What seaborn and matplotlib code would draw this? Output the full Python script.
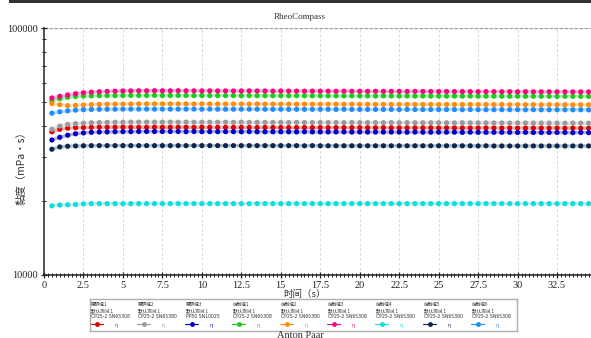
import numpy as np
import pandas as pd
import matplotlib
matplotlib.use("Agg")
import matplotlib.pyplot as plt
from matplotlib.lines import Line2D
from matplotlib.patches import Rectangle
from matplotlib.ticker import LogLocator, MultipleLocator, FixedLocator, NullFormatter
import seaborn as sns

# Measurement times (s)
time_s = [0.5 * k for k in range(1, 70)]

# Viscosity per sample, in thousands of mPa·s
visc_group1 = [
    38.00, 38.90, 39.30, 39.50, 39.55, 39.60, 39.65, 39.65, 39.65, 39.70, 39.65, 39.65,
    39.65, 39.70, 39.65, 39.65, 39.65, 39.65, 39.60, 39.65, 39.60, 39.60, 39.60, 39.60,
    39.60, 39.60, 39.55, 39.60, 39.55, 39.55, 39.55, 39.55, 39.55, 39.50, 39.55, 39.50,
    39.50, 39.50, 39.50, 39.50, 39.50, 39.45, 39.50, 39.45, 39.45, 39.45, 39.45, 39.45,
    39.45, 39.40, 39.45, 39.40, 39.40, 39.40, 39.40, 39.40, 39.40, 39.35, 39.40, 39.35,
    39.35, 39.35, 39.35, 39.35, 39.35, 39.30, 39.35, 39.30, 39.30]
visc_group2 = [
    38.90, 40.10, 40.70, 41.00, 41.20, 41.35, 41.45, 41.50, 41.55, 41.55, 41.60, 41.60,
    41.60, 41.60, 41.60, 41.60, 41.55, 41.60, 41.55, 41.55, 41.55, 41.55, 41.55, 41.50,
    41.55, 41.50, 41.50, 41.50, 41.50, 41.50, 41.45, 41.50, 41.45, 41.45, 41.45, 41.45,
    41.45, 41.40, 41.45, 41.40, 41.40, 41.40, 41.40, 41.40, 41.35, 41.40, 41.35, 41.35,
    41.35, 41.35, 41.35, 41.30, 41.35, 41.30, 41.30, 41.30, 41.30, 41.30, 41.25, 41.30,
    41.25, 41.25, 41.25, 41.25, 41.25, 41.20, 41.25, 41.20, 41.20]
visc_group3 = [
    35.20, 36.10, 36.80, 37.30, 37.60, 37.80, 37.90, 37.95, 38.00, 38.05, 38.05, 38.10,
    38.10, 38.10, 38.10, 38.10, 38.10, 38.05, 38.10, 38.05, 38.05, 38.05, 38.05, 38.05,
    38.00, 38.05, 38.00, 38.00, 38.00, 38.00, 38.00, 37.95, 38.00, 37.95, 37.95, 37.95,
    37.95, 37.95, 37.90, 37.95, 37.90, 37.90, 37.90, 37.90, 37.90, 37.85, 37.90, 37.85,
    37.85, 37.85, 37.85, 37.85, 37.80, 37.85, 37.80, 37.80, 37.80, 37.80, 37.80, 37.75,
    37.80, 37.75, 37.75, 37.75, 37.75, 37.75, 37.70, 37.75, 37.70]
visc_ref1 = [
    50.80, 51.70, 52.40, 52.80, 53.00, 53.10, 53.20, 53.25, 53.25, 53.30, 53.30, 53.30,
    53.30, 53.35, 53.30, 53.30, 53.30, 53.30, 53.25, 53.30, 53.25, 53.25, 53.25, 53.25,
    53.20, 53.25, 53.20, 53.20, 53.20, 53.20, 53.15, 53.20, 53.15, 53.15, 53.15, 53.10,
    53.15, 53.10, 53.10, 53.10, 53.10, 53.05, 53.10, 53.05, 53.05, 53.05, 53.00, 53.05,
    53.00, 53.00, 53.00, 53.00, 52.95, 53.00, 52.95, 52.95, 52.95, 52.95, 52.90, 52.95,
    52.90, 52.90, 52.90, 52.90, 52.85, 52.90, 52.85, 52.85, 52.85]
visc_ref2 = [
    49.40, 48.90, 48.50, 48.60, 48.80, 48.95, 49.05, 49.15, 49.20, 49.25, 49.25, 49.30,
    49.30, 49.30, 49.30, 49.30, 49.30, 49.30, 49.25, 49.30, 49.25, 49.25, 49.25, 49.25,
    49.25, 49.20, 49.25, 49.20, 49.20, 49.20, 49.20, 49.15, 49.20, 49.15, 49.15, 49.15,
    49.15, 49.10, 49.15, 49.10, 49.10, 49.10, 49.10, 49.05, 49.10, 49.05, 49.05, 49.05,
    49.05, 49.00, 49.05, 49.00, 49.00, 49.00, 49.00, 49.00, 48.95, 49.00, 48.95, 48.95,
    48.95, 48.95, 48.90, 48.95, 48.90, 48.90, 48.90, 48.90, 48.90]
visc_ref3 = [
    52.10, 52.90, 53.60, 54.20, 54.70, 55.00, 55.20, 55.40, 55.50, 55.60, 55.65, 55.70,
    55.70, 55.75, 55.70, 55.70, 55.75, 55.70, 55.70, 55.65, 55.70, 55.65, 55.65, 55.60,
    55.60, 55.65, 55.60, 55.60, 55.55, 55.60, 55.55, 55.55, 55.50, 55.55, 55.50, 55.50,
    55.45, 55.50, 55.45, 55.45, 55.40, 55.45, 55.40, 55.40, 55.40, 55.35, 55.40, 55.35,
    55.35, 55.30, 55.35, 55.30, 55.30, 55.30, 55.25, 55.30, 55.25, 55.25, 55.25, 55.20,
    55.25, 55.20, 55.20, 55.20, 55.15, 55.20, 55.15, 55.15, 55.15]
visc_ref4 = [
    19.05, 19.20, 19.25, 19.30, 19.40, 19.45, 19.45, 19.45, 19.45, 19.45, 19.45, 19.45,
    19.45, 19.45, 19.45, 19.45, 19.45, 19.45, 19.45, 19.45, 19.45, 19.45, 19.45, 19.45,
    19.45, 19.45, 19.45, 19.45, 19.45, 19.45, 19.45, 19.45, 19.45, 19.45, 19.45, 19.45,
    19.45, 19.45, 19.45, 19.45, 19.45, 19.45, 19.45, 19.45, 19.45, 19.45, 19.45, 19.45,
    19.45, 19.45, 19.45, 19.45, 19.45, 19.45, 19.45, 19.45, 19.45, 19.45, 19.45, 19.45,
    19.45, 19.45, 19.45, 19.45, 19.45, 19.45, 19.45, 19.45, 19.45]
visc_ref5 = [
    32.30, 33.00, 33.20, 33.30, 33.35, 33.40, 33.40, 33.40, 33.40, 33.40, 33.40, 33.40,
    33.40, 33.40, 33.40, 33.40, 33.40, 33.40, 33.40, 33.40, 33.40, 33.40, 33.40, 33.40,
    33.40, 33.40, 33.40, 33.40, 33.40, 33.40, 33.40, 33.40, 33.35, 33.40, 33.35, 33.35,
    33.35, 33.35, 33.35, 33.35, 33.35, 33.35, 33.35, 33.35, 33.35, 33.35, 33.35, 33.35,
    33.35, 33.35, 33.35, 33.35, 33.35, 33.35, 33.30, 33.35, 33.30, 33.30, 33.30, 33.30,
    33.30, 33.30, 33.30, 33.30, 33.30, 33.30, 33.30, 33.30, 33.30]
visc_ref6 = [
    45.20, 45.80, 46.20, 46.50, 46.70, 46.80, 46.85, 46.90, 46.90, 46.95, 46.95, 46.95,
    46.95, 46.95, 46.95, 46.95, 46.95, 46.95, 46.95, 46.90, 46.95, 46.90, 46.90, 46.90,
    46.90, 46.90, 46.90, 46.90, 46.85, 46.90, 46.85, 46.85, 46.85, 46.85, 46.85, 46.85,
    46.80, 46.85, 46.80, 46.80, 46.80, 46.80, 46.80, 46.80, 46.75, 46.80, 46.75, 46.75,
    46.75, 46.75, 46.75, 46.75, 46.70, 46.75, 46.70, 46.70, 46.70, 46.70, 46.70, 46.70,
    46.65, 46.70, 46.65, 46.65, 46.65, 46.65, 46.65, 46.65, 46.60]

series_values = [visc_group1, visc_group2, visc_group3, visc_ref1, visc_ref2,
                 visc_ref3, visc_ref4, visc_ref5, visc_ref6]
series_names = ["原研组1", "原研组2", "原研组3", "仿制组1", "仿制组2",
                "仿制组3", "仿制组4", "仿制组5", "仿制组6"]
series_test = ["默认测试 1"] * 9
series_system = ["CP25-2 SN65308", "CP25-2 SN65380", "PP50 SN10025",
                 "CP25-2 SN65308", "CP25-2 SN65380", "CP25-2 SN65308",
                 "CP25-2 SN65380", "CP25-2 SN65380", "CP25-2 SN65308"]
series_colors = ["#e00000", "#9a9a9a", "#0000c8", "#1ec81e", "#ff8c0a",
                 "#f5087f", "#10dcdc", "#0a2850", "#1e8cff"]

x_ticks = [0, 2.5, 5, 7.5, 10, 12.5, 15, 17.5, 20, 22.5, 25, 27.5, 30, 32.5]
x_tick_labels = ["0", "2.5", "5", "7.5", "10", "12.5", "15", "17.5", "20",
                 "22.5", "25", "27.5", "30", "32.5"]
y_ticks = [10000, 100000]
y_tick_labels = ["10000", "100000"]

rows = []
for name, vals in zip(series_names, series_values):
    for t, v in zip(time_s, vals):
        rows.append({"t": t, "visc": v * 1000, "sample": name})
df = pd.DataFrame(rows)
palette = dict(zip(series_names, series_colors))

sns.set_theme(style="white")
SERIF = ["Liberation Serif", "Noto Sans CJK SC"]
CJK = ["Noto Sans CJK SC", "Liberation Serif"]
plt.rcParams["font.family"] = SERIF

W, H = 591, 338
fig = plt.figure(figsize=(W / 100, H / 100), dpi=100)
fig.patch.set_facecolor("white")

def px(x0, y0, x1, y1):
    return [x0 / W, 1 - y1 / H, (x1 - x0) / W, (y1 - y0) / H]

ax = fig.add_axes(px(44, 28, 591, 275))

# connecting lines (pale) and measured points
sns.lineplot(data=df, x="t", y="visc", hue="sample", palette=palette,
             hue_order=series_names, ax=ax, legend=False, lw=2.4, alpha=0.3,
             estimator=None)
sns.scatterplot(data=df, x="t", y="visc", hue="sample", palette=palette,
                hue_order=series_names, ax=ax, legend=False, s=14,
                linewidth=0, zorder=5)

ax.set_yscale("log")
ax.set_xlim(0, 34.65)
ax.set_ylim(10000, 100000)

ax.xaxis.set_major_locator(FixedLocator(x_ticks))
ax.set_xticklabels(x_tick_labels)
ax.xaxis.set_minor_locator(MultipleLocator(0.25))
ax.yaxis.set_major_locator(FixedLocator(y_ticks))
ax.set_yticklabels(y_tick_labels)
ax.yaxis.set_minor_locator(LogLocator(base=10, subs=np.arange(2, 10)))
ax.yaxis.set_minor_formatter(NullFormatter())

ax.tick_params(axis="both", which="major", direction="inout", length=5,
               width=0.9, color="#222222", labelsize=7.5, labelcolor="#222222",
               left=True, bottom=True, pad=2)
ax.tick_params(axis="both", which="minor", direction="inout", length=3,
               width=0.7, color="#222222", left=True, bottom=True)

ax.grid(False)
for xv in x_ticks[1:]:
    ax.axvline(xv, color="#dadada", lw=0.7, ls=(0, (3, 2)), zorder=0)
ax.axhline(100000, color="#9a9a9a", lw=0.9, ls=(0, (3, 1)), zorder=0)

for side in ["top", "right"]:
    ax.spines[side].set_visible(False)
for side in ["left", "bottom"]:
    ax.spines[side].set_color("#222222")
    ax.spines[side].set_linewidth(1.1)

ax.set_xlabel("")
ax.set_ylabel("")

# titles and axis labels
fig.text(300 / W, 1 - 17 / H, "RheoCompass", ha="center", va="center",
         fontsize=6.5, color="#333333", family=SERIF)
fig.text(305 / W, 1 - 294.5 / H, "时间（s）", ha="center", va="center",
         fontsize=6.8, color="#333333", family=CJK)
fig.text(22 / W, 1 - 166 / H, "黏度（mPa・s）", ha="center", va="center",
         rotation=90, fontsize=7.5, color="#333333", family=CJK)
fig.text(300 / W, 1 - 336 / H, "Anton Paar", ha="center", va="center",
         fontsize=7.5, color="#333333", family=SERIF)

# dark band along the top edge
fig.add_artist(Rectangle((9 / W, 1 - 2.5 / H), (W - 9) / W, 2.5 / H,
                         transform=fig.transFigure, color="#333333", lw=0))

# legend panel
lax = fig.add_axes(px(90, 299, 517, 331))
lax.set_xlim(90, 517)
lax.set_ylim(331, 299)
lax.set_xticks([])
lax.set_yticks([])
for s in lax.spines.values():
    s.set_color("#b0b0b0")
    s.set_linewidth(1.0)
col_x = [91, 138, 186, 233, 281, 328, 376, 424, 472]
for cx, name, test, sysname, col in zip(col_x, series_names, series_test,
                                        series_system, series_colors):
    lax.text(cx, 304.5, name, fontsize=3.3, va="center", ha="left",
             family=CJK, color="#333333")
    lax.text(cx, 310.5, test, fontsize=3.3, va="center", ha="left",
             family=CJK, color="#333333")
    lax.text(cx, 316.3, sysname, fontsize=3.3, va="center", ha="left",
             family=["DejaVu Sans"], color="#333333")
    lax.add_line(Line2D([cx - 1, cx + 12], [324.3, 324.3], color=col, lw=0.8))
    lax.add_line(Line2D([cx + 5.5], [324.3], color=col, marker="o",
                        markersize=3.5, markeredgewidth=0))
    lax.text(cx + 25, 325, "η", fontsize=3.5, va="center", ha="center",
             color=col, family=["DejaVu Sans"])

fig.savefig("out.png", dpi=100)
